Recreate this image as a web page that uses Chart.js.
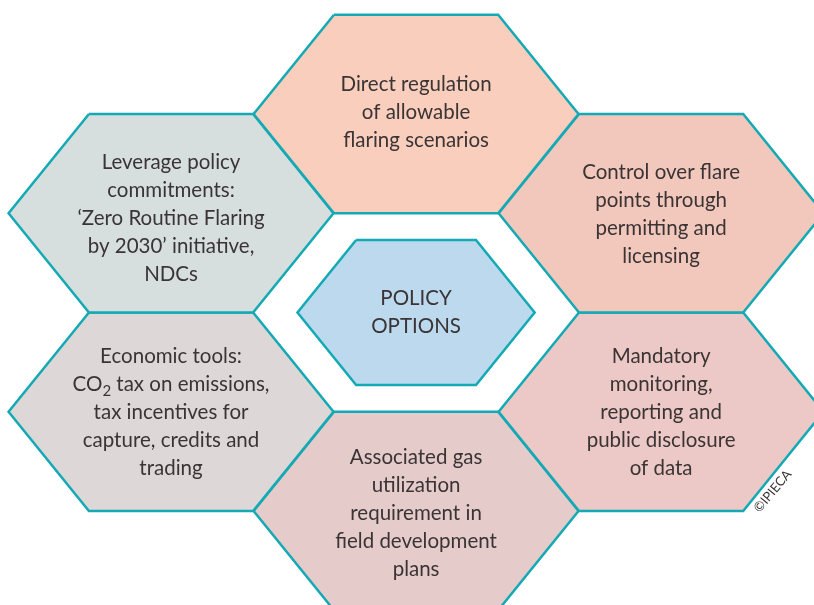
<!DOCTYPE html>
<html>
<head>
<meta charset="utf-8">
<script src="https://cdn.jsdelivr.net/npm/chart.js@4/dist/chart.umd.min.js"></script>
<style>
  body { margin: 0; background: #ffffff; }
  #myChart { display: block; }
</style>
</head>
<body>
<canvas id="myChart" width="814" height="605"></canvas>
<script>
// Hexagon grid: column (0..2) and half-row (0..4) of every cell
var hexCols = [1, 0, 2, 1, 0, 2, 1];
var hexRows = [0, 1, 1, 2, 3, 3, 4];
// relative size of each hexagon (centre one is smaller)
var hexSizes = [1, 1, 1, 0.73, 1, 1, 1];
var hexFills = ["#f9cebd", "#d6dfde", "#f2c7bc", "#bcd9ee", "#ddd7d7", "#ecc9c6", "#e5cbca"];
// text shift in half-rows
var textShift = [-0.02, 0.05, 0.01, 0, 0.01, 0.01, 0.02];
// {2} marks a subscript
var hexLabels = [
    ["Direct regulation", "of allowable", "flaring scenarios"],
    ["Leverage policy", "commitments:", "\u2018Zero Routine Flaring", "by 2030\u2019 initiative,", "NDCs"],
    ["Control over flare", "points through", "permitting and", "licensing"],
    ["POLICY", "OPTIONS"],
    ["Economic tools:", "CO{2} tax on emissions,", "tax incentives for", "capture, credits and", "trading"],
    ["Mandatory", "monitoring,", "reporting and", "public disclosure", "of data"],
    ["Associated gas", "utilization", "requirement in", "field development", "plans"]
];
var copyright = "\u00a9IPIECA";

// hexagon outline in grid units (full size)
var halfWidth = 0.663;
var halfFlat = 0.335;
var halfHeight = 1.0;

var strokeColor = "#13a9b5";
var textColor = "#3a3435";
var fontFamily = "Lato, 'Open Sans', sans-serif";

function hexPoints(cx, cy, s) {
    return [
        {x: cx - halfFlat * s, y: cy - halfHeight * s},
        {x: cx + halfFlat * s, y: cy - halfHeight * s},
        {x: cx + halfWidth * s, y: cy},
        {x: cx + halfFlat * s, y: cy + halfHeight * s},
        {x: cx - halfFlat * s, y: cy + halfHeight * s},
        {x: cx - halfWidth * s, y: cy},
        {x: cx - halfFlat * s, y: cy - halfHeight * s}
    ];
}

var datasets = hexCols.map((c, i) => {
    return {
        data: hexPoints(c, hexRows[i], hexSizes[i]),
        showLine: true,
        fill: 'shape',
        backgroundColor: hexFills[i],
        borderColor: strokeColor,
        borderWidth: 2.5,
        pointRadius: 0,
        tension: 0,
        borderJoinStyle: 'miter'
    };
});

// draw a line of text, handling {2} subscripts, centred on x
function drawRichLine(ctx, line, x, y, size) {
    var parts = line.split(/(\{[^}]*\})/).filter(p => p.length);
    var bigFont = size + "px " + fontFamily;
    var smallFont = Math.round(size * 0.72) + "px " + fontFamily;
    var total = 0;
    parts.forEach(p => {
        ctx.font = p[0] === "{" ? smallFont : bigFont;
        total += ctx.measureText(p[0] === "{" ? p.slice(1, -1) : p).width;
    });
    var pos = x - total / 2;
    ctx.textAlign = "left";
    parts.forEach(p => {
        if (p[0] === "{") {
            var t = p.slice(1, -1);
            ctx.font = smallFont;
            ctx.fillText(t, pos, y + size * 0.3);
            pos += ctx.measureText(t).width;
        } else {
            ctx.font = bigFont;
            ctx.fillText(p, pos, y);
            pos += ctx.measureText(p).width;
        }
    });
}

var labelPlugin = {
    id: 'hexLabels',
    afterDraw: function(chart) {
        var ctx = chart.ctx;
        var xs = chart.scales.x;
        var ys = chart.scales.y;
        ctx.save();
        ctx.fillStyle = textColor;
        ctx.textBaseline = "middle";
        hexLabels.forEach((lines, i) => {
            var px = xs.getPixelForValue(hexCols[i]);
            var py = ys.getPixelForValue(hexRows[i] + textShift[i]);
            var lh = 28;
            var top = py - (lines.length - 1) * lh / 2;
            lines.forEach((line, k) => {
                drawRichLine(ctx, line, px, top + k * lh, 20.5);
            });
        });
        // copyright note, rotated along the lower right edge
        var cx = xs.getPixelForValue(2.455);
        var cy = ys.getPixelForValue(3.8);
        ctx.translate(cx, cy);
        ctx.rotate(-50 * Math.PI / 180);
        ctx.font = "13px " + fontFamily;
        ctx.textAlign = "center";
        ctx.fillText(copyright, 0, 0);
        ctx.restore();
    }
};

var ctx = document.getElementById("myChart");
var myChart = new Chart(ctx, {
    type: 'scatter',
    data: { datasets: datasets },
    options: {
        responsive: false,
        animation: false,
        layout: { padding: 0 },
        scales: {
            x: { display: false, min: -0.698, max: 2.624 },
            y: { display: false, reverse: true, min: -1.149, max: 4.947 }
        },
        plugins: {
            legend: { display: false },
            tooltip: { enabled: false }
        }
    },
    plugins: [labelPlugin]
});
</script>
</body>
</html>
